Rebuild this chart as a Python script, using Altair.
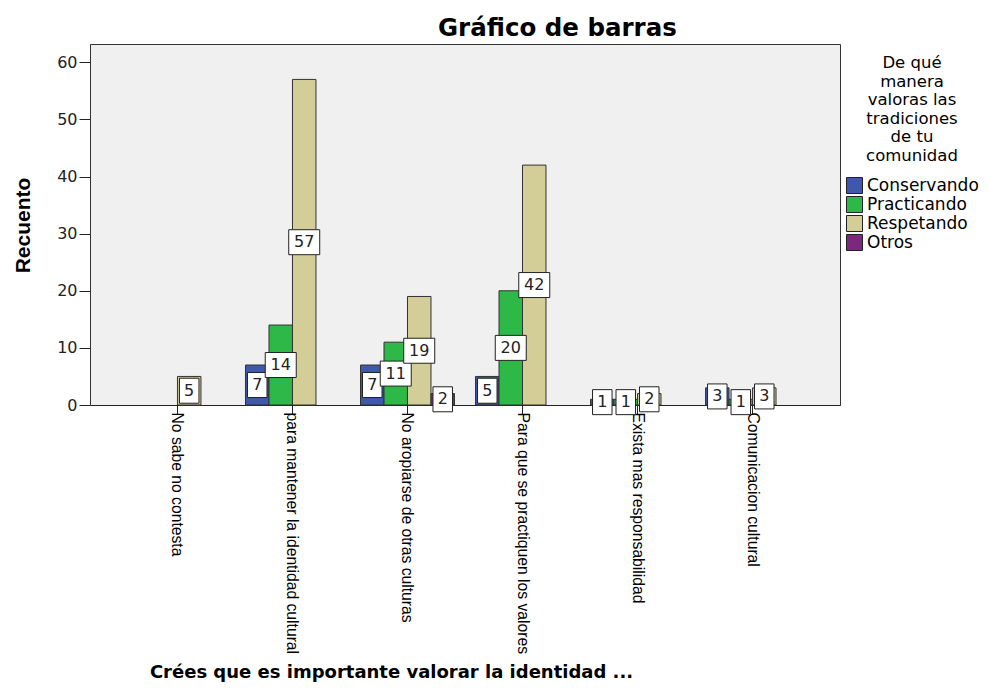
import altair as alt
import pandas as pd

categories = [
    "No sabe no contesta",
    "para mantener la identidad cultural",
    "No aropiarse de otras culturas",
    "Para que se practiquen los valores",
    "Exista mas responsabilidad",
    "Comunicacion  cultural",
]
series = ["Conservando", "Practicando", "Respetando", "Otros"]
colors = ["#3E58AC", "#2EB848", "#D3CE97", "#7C287D"]

conservando = [None, 7, 7, 5, 1, 3]
practicando = [None, 14, 11, 20, 1, 1]
respetando = [5, 57, 19, 42, 2, 3]
otros = [None, None, 2, None, None, None]

rows = []
for s, vals in zip(series, [conservando, practicando, respetando, otros]):
    for c, v in zip(categories, vals):
        if v is not None:
            rows.append({"categoria": c, "serie": s, "valor": v,
                         "dig": "uno" if v < 10 else "dos"})
df = pd.DataFrame(rows)

box1 = "M-0.78,-1H0.78V1H-0.78Z"
box2 = "M-1.24,-1H1.24V1H-1.24Z"

xenc = alt.X(
    "categoria:N",
    sort=categories,
    scale=alt.Scale(domain=categories, paddingInner=0.183, paddingOuter=0.352),
    axis=alt.Axis(
        title="Crées que es importante valorar la identidad ...",
        titleFont="DejaVu Sans", titleFontSize=18, titleFontWeight="bold",
        titleColor="black", titleX=301, titleY=272, titleAlign="center",
        titleBaseline="alphabetic",
        labelAngle=90, labelFont="Liberation Sans", labelFontSize=15.7,
        labelColor="black", labelPadding=-2, labelLimit=0, labelOverlap=False,
        tickSize=9, tickColor="#222", domainColor="#222",
    ),
)
xoff = alt.XOffset("serie:N", scale=alt.Scale(domain=series, paddingInner=0, paddingOuter=0))

base = alt.Chart(df).encode(x=xenc, xOffset=xoff)

bars = base.mark_bar(stroke="#333", strokeWidth=1).encode(
    y=alt.Y(
        "valor:Q",
        scale=alt.Scale(domain=[0, 63.2], nice=False, zero=True),
        axis=alt.Axis(
            values=[0, 10, 20, 30, 40, 50, 60], grid=False,
            title="Recuento", titleFont="Liberation Sans", titleFontSize=21,
            titleFontWeight="bold", titleColor="black", titleX=-67, titleY=181,
            titleAlign="center", titleBaseline="middle",
            labelFont="DejaVu Sans", labelFontSize=16, labelColor="#222",
            labelPadding=2, tickSize=11, tickColor="#222", domainColor="#333",
        ),
    ),
    color=alt.Color(
        "serie:N",
        scale=alt.Scale(domain=series, range=colors),
        legend=alt.Legend(
            title=["De qué", "manera", "valoras las", "tradiciones", "de tu", "comunidad"],
            orient="none", legendX=756, legendY=11,
            titleFont="DejaVu Sans", titleFontSize=16.5, titleFontWeight="normal",
            titleColor="black", titleAlign="center", titleAnchor="middle",
            titleLineHeight=18.5, titlePadding=13,
            labelFont="DejaVu Sans", labelFontSize=17, labelColor="black",
            symbolType="square", symbolSize=256, symbolStrokeColor="#222",
            symbolStrokeWidth=1, symbolOpacity=1, labelOffset=4, rowPadding=-2,
            padding=0,
        ),
    ),
)

boxes = base.mark_point(filled=True, fill="white", stroke="#222", strokeWidth=1, opacity=1).transform_calculate(
    mid="datum.valor / 2"
).encode(
    y=alt.Y("mid:Q"),
    shape=alt.Shape("dig:N", scale=alt.Scale(domain=["uno", "dos"], range=[box1, box2]), legend=None),
    size=alt.value(625),
)

texts = base.mark_text(font="DejaVu Sans", fontSize=16, color="#222", baseline="middle", align="center").transform_calculate(
    mid="datum.valor / 2"
).encode(
    y=alt.Y("mid:Q"),
    text=alt.Text("valor:Q"),
)

chart = alt.layer(bars, boxes, texts).properties(
    width=750,
    height=361,
    autosize=alt.AutoSizeParams(type="none"),
    padding={"left": 82, "top": 36, "right": 141, "bottom": 278},
    title=alt.TitleParams(
        "Gráfico de barras", font="DejaVu Sans", fontSize=24.5, fontWeight="bold",
        color="black", anchor="start", frame="group", dx=348, offset=-16,
        baseline="alphabetic",
    ),
).configure_view(fill="#F0F0F0", stroke="#333", strokeWidth=1)

chart.save("out.html", embed_options={"renderer": "svg", "actions": False})
